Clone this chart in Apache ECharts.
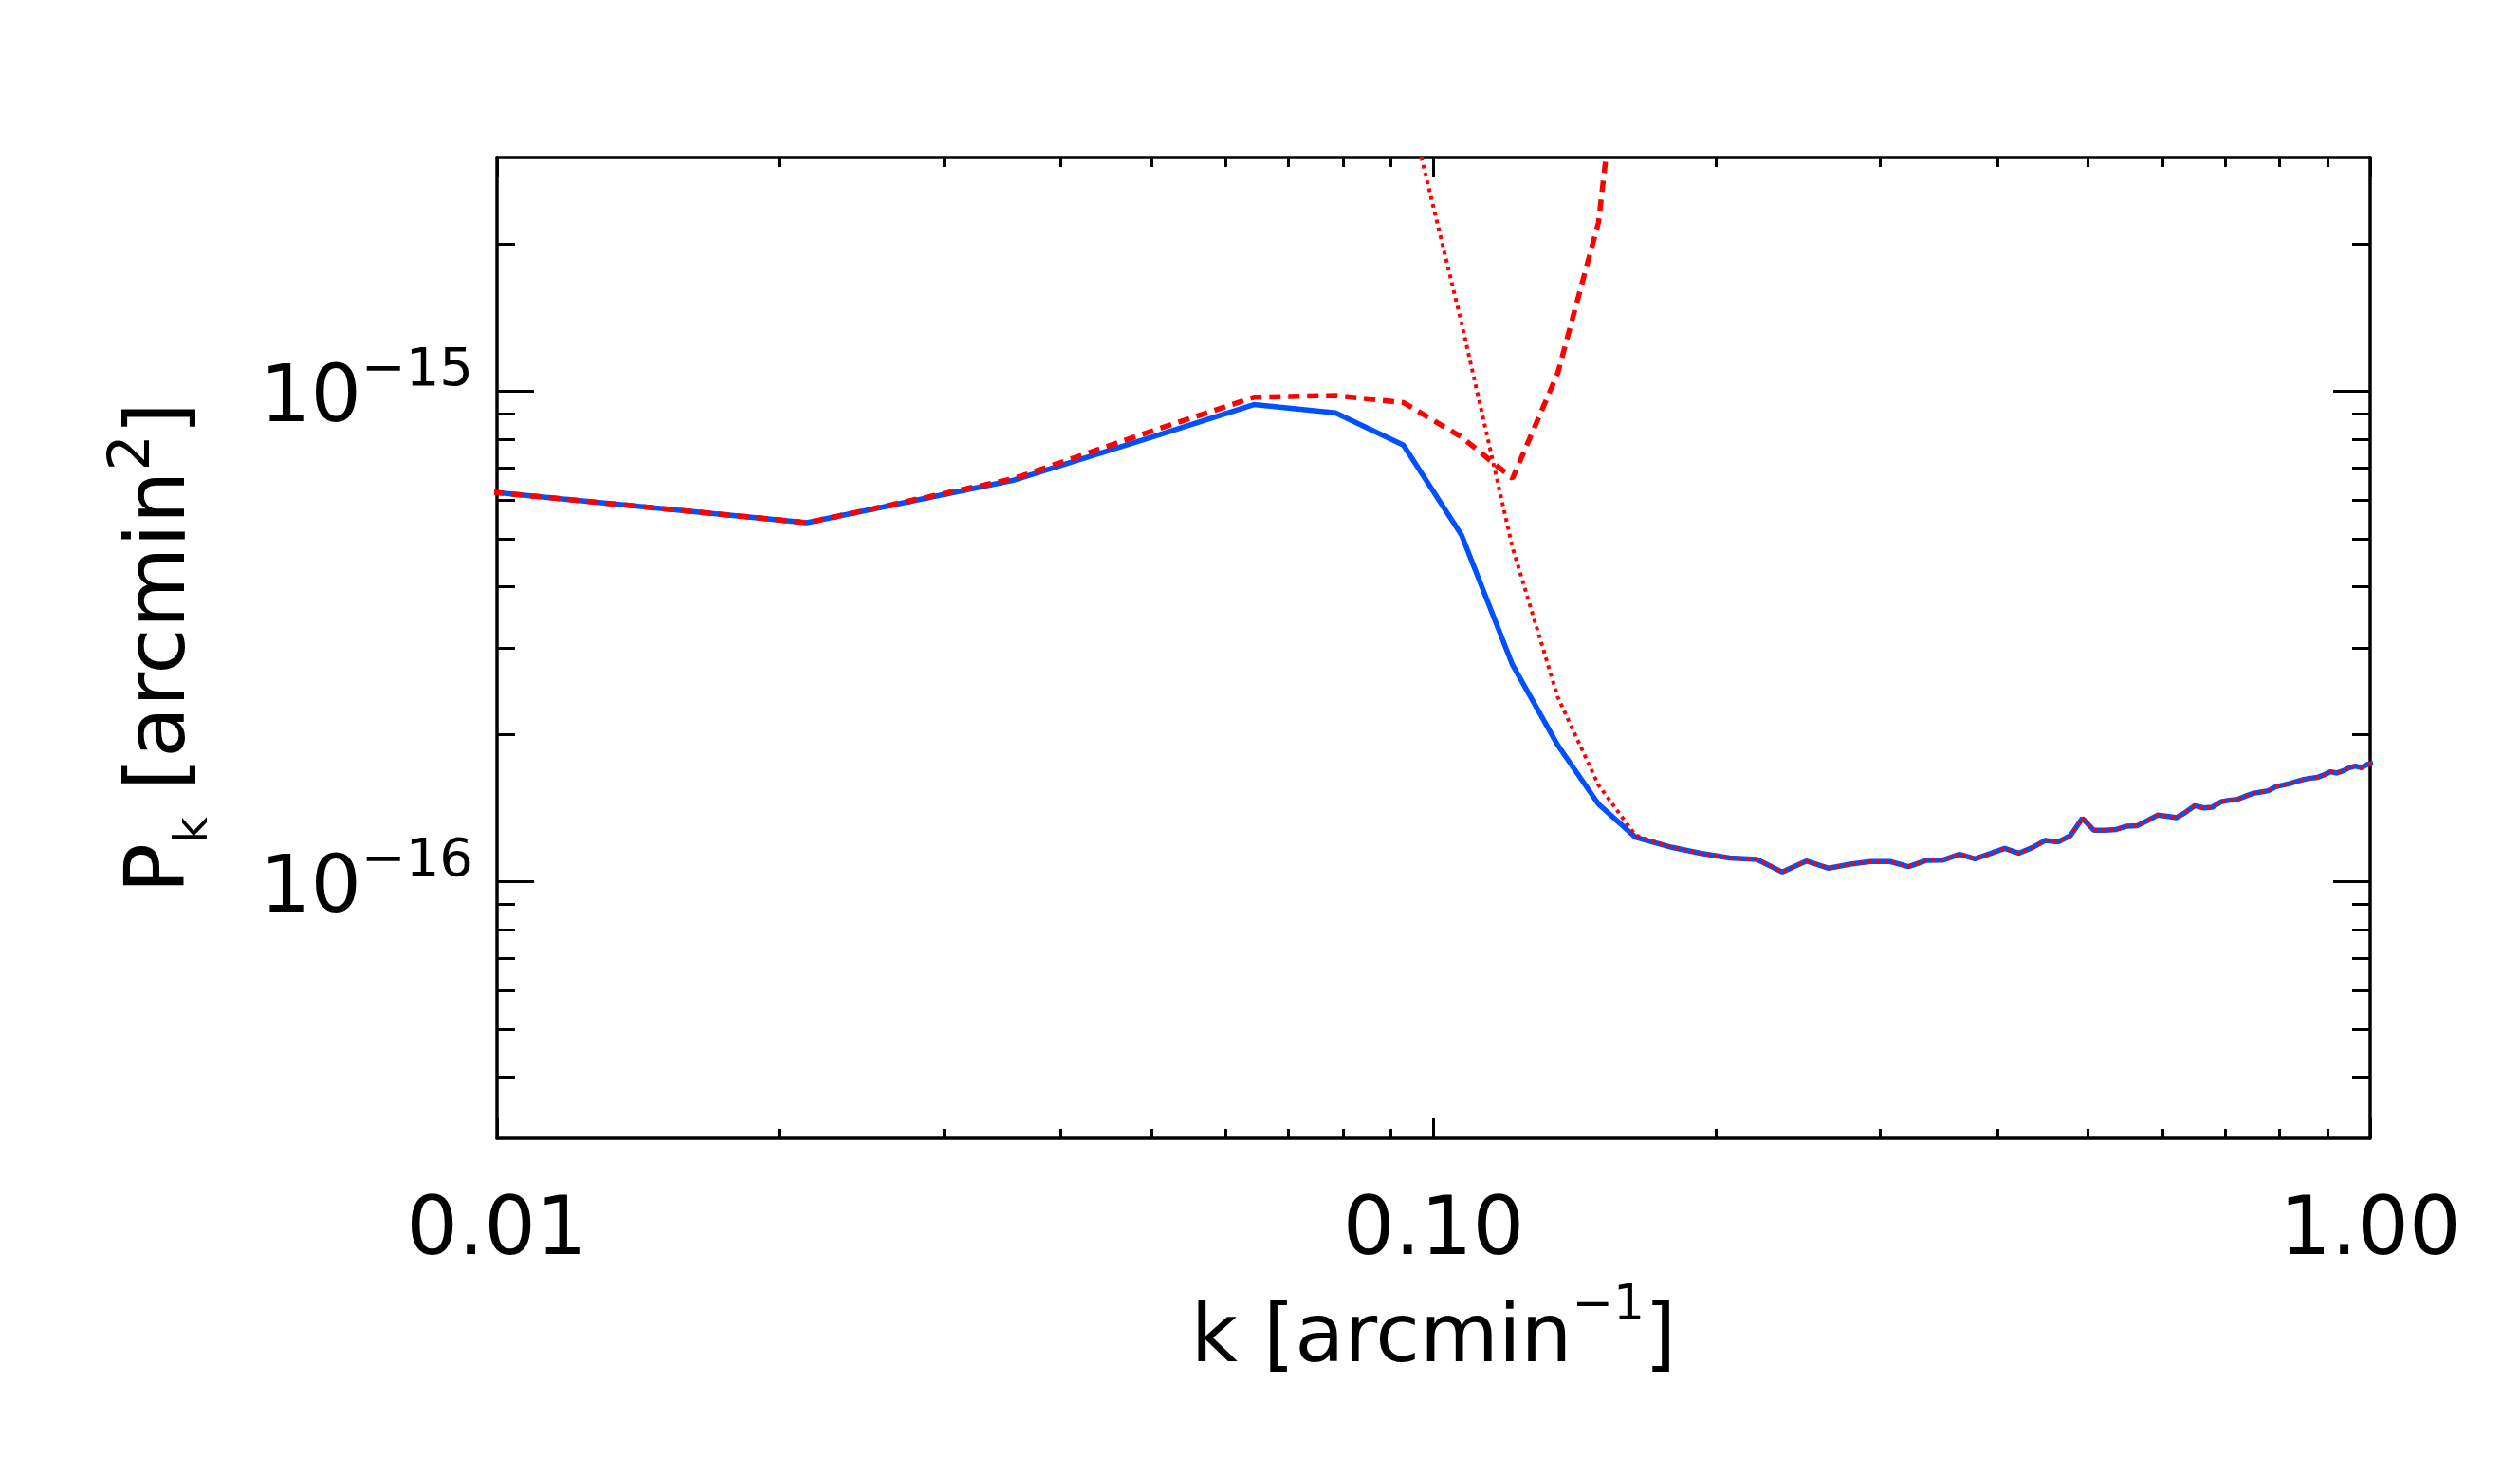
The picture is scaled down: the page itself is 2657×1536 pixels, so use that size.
<!DOCTYPE html>
<html>
<head>
<meta charset="utf-8">
<script src="https://cdn.jsdelivr.net/npm/echarts@6.0.0/dist/echarts.min.js"></script>
<style>
  html, body { margin: 0; padding: 0; background: #fff; }
  #chart { width: 2657px; height: 1536px; }
</style>
</head>
<body>
<div id="chart"></div>
<script>
// k [arcmin^-1], one value per bin
const kVals = [
    0.00714, 0.02143, 0.03571, 0.05000, 0.06429, 0.07857, 0.09286, 0.10714, 0.12143, 0.13571,
    0.15000, 0.16429, 0.17857, 0.19286, 0.20714, 0.22143, 0.23571, 0.25000, 0.26429, 0.27857,
    0.29286, 0.30714, 0.32143, 0.33571, 0.35000, 0.36429, 0.37857, 0.39286, 0.40714, 0.42143,
    0.43571, 0.45000, 0.46429, 0.47857, 0.49286, 0.50714, 0.52143, 0.53571, 0.55000, 0.56429,
    0.57857, 0.59286, 0.60714, 0.62143, 0.63571, 0.65000, 0.66429, 0.67857, 0.69286, 0.70714,
    0.72143, 0.73571, 0.75000, 0.76429, 0.77857, 0.79286, 0.80714, 0.82143, 0.83571, 0.85000,
    0.86429, 0.87857, 0.89286, 0.90714, 0.92143, 0.93571, 0.95000, 0.96429, 0.97857, 0.99286,
    1.00714
];

// P_k, in units of 1e-16 arcmin^2
const unit = 1e-16;
const pSolid = [
    6.62, 5.40, 6.60, 8.07, 9.40, 9.04, 7.77, 5.09, 2.77, 1.90,
    1.44, 1.233, 1.179, 1.144, 1.119, 1.111, 1.047, 1.103, 1.066, 1.087,
    1.100, 1.100, 1.074, 1.106, 1.108, 1.138, 1.114, 1.142, 1.170, 1.144,
    1.174, 1.215, 1.206, 1.242, 1.348, 1.274, 1.274, 1.279, 1.299, 1.302,
    1.334, 1.368, 1.361, 1.352, 1.388, 1.430, 1.415, 1.420, 1.456, 1.467,
    1.473, 1.495, 1.515, 1.525, 1.534, 1.563, 1.575, 1.587, 1.603, 1.618,
    1.627, 1.634, 1.652, 1.677, 1.667, 1.684, 1.709, 1.722, 1.709, 1.735,
    1.747
];
// dashed curve, first 13 bins (rest is far above the frame)
const pDashed = [6.62, 5.40, 6.65, 8.30, 9.73, 9.81, 9.49, 8.07, 6.65, 10.9, 22.1, 100, 400];
// dotted curve from bin 5 to 11, then it runs on the solid one
const dottedFrom = 5;
const pDottedHead = [140, 42.5, 13.77, 4.80, 2.38, 1.575, 1.244];
const dottedJoin = 12;

const xMajor = [0.01, 0.1, 1];
const xMinor = [0.02, 0.03, 0.04, 0.05, 0.06, 0.07, 0.08, 0.09, 0.2, 0.3, 0.4, 0.5, 0.6, 0.7, 0.8, 0.9];
const yMajor = [1e-16, 1e-15];
const yMinor = [4e-17, 5e-17, 6e-17, 7e-17, 8e-17, 9e-17,
    2e-16, 3e-16, 4e-16, 5e-16, 6e-16, 7e-16, 8e-16, 9e-16, 2e-15];

const FONT = "DejaVu Sans";
const BLUE = "#0050ff";
const RED = "#ff0000";

function pairs(ks, ps, start) {
    return ps.map((p, i) => [ks[start + i], p * unit]);
}

const solidData = pairs(kVals, pSolid, 0);
const dashedData = pairs(kVals, pDashed, 0);
const dottedData = pairs(kVals, pDottedHead, dottedFrom).concat(
    pairs(kVals, pSolid.slice(dottedJoin), dottedJoin)
);

function axisBase(kind, position, ticks, len, showLine) {
    return {
        type: "log",
        logBase: 10,
        min: kind === "x" ? 0.01 : 3e-17,
        max: kind === "x" ? 1 : 3e-15,
        position: position,
        axisLine: { show: showLine, onZero: false, lineStyle: { color: "#000", width: 3.5 } },
        axisTick: {
            show: true,
            inside: true,
            length: len,
            customValues: ticks,
            lineStyle: { color: "#000", width: 3 },
        },
        axisLabel: { show: false },
        splitLine: { show: false },
        minorTick: { show: false },
        minorSplitLine: { show: false },
    };
}

const xMain = axisBase("x", "bottom", xMajor, 21, true);
xMain.axisLabel = {
    show: true,
    customValues: xMajor,
    margin: 57,
    color: "#000",
    fontFamily: FONT,
    fontSize: 86,
    formatter: (v) => Number(v).toFixed(2),
};
xMain.name = "{m|k [arcmin}{s|−1}{m|]}";
xMain.nameLocation = "middle";
xMain.nameGap = 151;
xMain.nameMoveOverlap = false;
xMain.nameTextStyle = {
    color: "#000",
    rich: {
        m: { fontFamily: FONT, fontSize: 85, color: "#000" },
        s: { fontFamily: FONT, fontSize: 52, color: "#000", padding: [0, 0, 72, 0] },
    },
};

const yMain = axisBase("y", "left", yMajor, 39, true);
yMain.axisLabel = {
    show: true,
    customValues: yMajor,
    margin: 25,
    color: "#000",
    formatter: (v) => {
        const e = v < 0 ? Math.round(v) : Math.round(Math.log10(v));
        return "{b|10}{s|−" + -e + "}";
    },
    rich: {
        b: { fontFamily: FONT, fontSize: 84, color: "#000", padding: [20, 0, 0, 0] },
        s: { fontFamily: FONT, fontSize: 56, color: "#000", padding: [0, 0, 42, 0] },
    },
};
yMain.name = "{m|P}{d|k}{m| [arcmin}{u|2}{m|]}";
yMain.nameLocation = "middle";
yMain.nameRotate = 90;
yMain.nameGap = 292;
yMain.nameMoveOverlap = false;
yMain.nameTextStyle = {
    color: "#000",
    rich: {
        m: { fontFamily: FONT, fontSize: 88, color: "#000" },
        d: { fontFamily: FONT, fontSize: 48, color: "#000", padding: [69, 0, 0, 0] },
        u: { fontFamily: FONT, fontSize: 60, color: "#000", padding: [0, 0, 61, 0] },
    },
};

const option = {
    backgroundColor: "#fff",
    animation: false,
    grid: { left: 524, top: 166, width: 1975, height: 1034, containLabel: false },
    xAxis: [
        xMain,
        axisBase("x", "bottom", xMinor, 10, false),
        axisBase("x", "top", xMajor, 21, true),
        axisBase("x", "top", xMinor, 10, false),
    ],
    yAxis: [
        yMain,
        axisBase("y", "left", yMinor, 19, false),
        axisBase("y", "right", yMajor, 39, true),
        axisBase("y", "right", yMinor, 19, false),
    ],
    series: [
        {
            type: "line",
            data: solidData,
            showSymbol: false,
            symbol: "none",
            lineStyle: { color: BLUE, width: 5.5 },
            z: 2,
        },
        {
            type: "line",
            data: dashedData,
            showSymbol: false,
            symbol: "none",
            lineStyle: { color: RED, width: 5.5, type: [12, 8], cap: "butt" },
            z: 3,
        },
        {
            type: "line",
            data: dottedData,
            showSymbol: false,
            symbol: "none",
            lineStyle: { color: RED, width: 4, type: [4, 4.5], cap: "butt" },
            z: 4,
        },
    ],
};

const chart = echarts.init(document.getElementById("chart"), null, { renderer: "canvas" });
chart.setOption(option);
</script>
</body>
</html>
